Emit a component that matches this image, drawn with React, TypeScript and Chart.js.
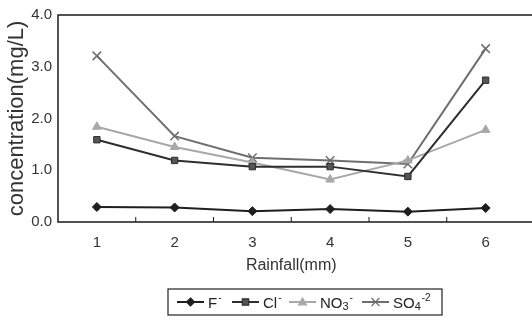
import React, { useEffect, useRef } from "react";
import { Chart, registerables } from "chart.js";

Chart.register(...registerables);

const categories = ["1", "2", "3", "4", "5", "6"];
const fValues = [0.29, 0.28, 0.21, 0.25, 0.2, 0.27];
const clValues = [1.59, 1.19, 1.07, 1.07, 0.88, 2.74];
const no3Values = [1.84, 1.45, 1.15, 0.82, 1.19, 1.78];
const so4Values = [3.21, 1.66, 1.24, 1.19, 1.12, 3.35];
const yTicks = [0, 1, 2, 3, 4];

const seriesLabels = ["F⁻", "Cl⁻", "NO₃⁻", "SO₄⁻²"];
// legend text segments: [text, kind] kind: n normal, sup, sub
const legendParts: [string, string][][] = [
  [["F", "n"], ["-", "sup"]],
  [["Cl", "n"], ["-", "sup"]],
  [["NO", "n"], ["3", "sub"], ["-", "sup"]],
  [["SO", "n"], ["4", "sub"], ["-2", "sup"]],
];

const FONT = "'Liberation Sans', Arial, sans-serif";

function marker(ctx: CanvasRenderingContext2D, style: string, x: number, y: number, r: number, stroke: string, fill: string) {
  ctx.save();
  ctx.strokeStyle = stroke;
  ctx.fillStyle = fill;
  ctx.lineWidth = 1.2;
  ctx.beginPath();
  if (style === "rectRot") {
    ctx.moveTo(x, y - r);
    ctx.lineTo(x + r, y);
    ctx.lineTo(x, y + r);
    ctx.lineTo(x - r, y);
    ctx.closePath();
    ctx.fill();
    ctx.stroke();
  } else if (style === "rect") {
    ctx.rect(x - r * 0.8, y - r * 0.8, r * 1.6, r * 1.6);
    ctx.fill();
    ctx.stroke();
  } else if (style === "triangle") {
    ctx.moveTo(x, y - r);
    ctx.lineTo(x + r, y + r * 0.7);
    ctx.lineTo(x - r, y + r * 0.7);
    ctx.closePath();
    ctx.fill();
    ctx.stroke();
  } else {
    ctx.moveTo(x - r, y - r);
    ctx.lineTo(x + r, y + r);
    ctx.moveTo(x + r, y - r);
    ctx.lineTo(x - r, y + r);
    ctx.stroke();
  }
  ctx.restore();
}

export default function App() {
  const ref = useRef<HTMLCanvasElement | null>(null);

  useEffect(() => {
    document.body.style.margin = "0";
    const canvas = ref.current;
    if (!canvas) return;

    const frame = {
      id: "frame",
      afterDraw(chart: any) {
        const { ctx, chartArea } = chart;
        const { left, right, top, bottom } = chartArea;
        ctx.save();
        ctx.strokeStyle = "#1a1a1a";
        ctx.lineWidth = 1.5;
        ctx.beginPath();
        ctx.moveTo(right + 10, top);
        ctx.lineTo(left, top);
        ctx.lineTo(left, bottom);
        ctx.lineTo(right + 10, bottom);
        ctx.stroke();
        const xs = chart.scales.x;
        ctx.lineWidth = 1;
        for (let i = 0; i < categories.length - 1; i++) {
          const x = (xs.getPixelForValue(i) + xs.getPixelForValue(i + 1)) / 2;
          ctx.beginPath();
          ctx.moveTo(x, bottom);
          ctx.lineTo(x, bottom - 5);
          ctx.stroke();
        }
        ctx.restore();
      },
    };

    const legend = {
      id: "customLegend",
      afterDraw(chart: any) {
        const { ctx } = chart;
        ctx.save();
        const bx = 168, by = 289, bw = 274, bh = 26;
        ctx.strokeStyle = "#222";
        ctx.lineWidth = 1.2;
        ctx.strokeRect(bx, by, bw, bh);
        const cy = by + bh / 2;
        const starts = [177, 232, 289, 362];
        chart.data.datasets.forEach((ds: any, i: number) => {
          const x0 = starts[i];
          const lw = 27;
          ctx.strokeStyle = ds.borderColor;
          ctx.lineWidth = 2;
          ctx.beginPath();
          ctx.moveTo(x0, cy);
          ctx.lineTo(x0 + lw, cy);
          ctx.stroke();
          marker(ctx, ds.pointStyle, x0 + lw / 2, cy, 4, ds.pointBorderColor, ds.pointBackgroundColor);
          let tx = x0 + lw + 4;
          ctx.fillStyle = "#222";
          ctx.textBaseline = "alphabetic";
          ctx.textAlign = "left";
          for (const [t, kind] of legendParts[i]) {
            if (kind === "n") {
              ctx.font = `15px ${FONT}`;
              ctx.fillText(t, tx, cy + 6);
            } else if (kind === "sub") {
              ctx.font = `11px ${FONT}`;
              ctx.fillText(t, tx, cy + 8);
            } else {
              ctx.font = `10px ${FONT}`;
              ctx.fillText(t, tx + 1, cy - 1);
            }
            tx += ctx.measureText(t).width + (kind === "sup" ? 1 : 0);
          }
        });
        ctx.restore();
      },
    };

    const mk = (label: string, data: number[], color: string, fill: string, style: string, r: number) => ({
      label,
      data,
      borderColor: color,
      backgroundColor: fill,
      pointBorderColor: color,
      pointBackgroundColor: fill,
      pointStyle: style,
      pointRadius: r,
      borderWidth: 2,
      pointBorderWidth: style === "crossRot" ? 1.5 : 1,
      tension: 0,
      fill: false,
    });

    const chart = new Chart(canvas, {
      type: "line",
      data: {
        labels: categories,
        datasets: [
          mk(seriesLabels[0], fValues, "#1f1f1f", "#1f1f1f", "rectRot", 4.5),
          mk(seriesLabels[1], clValues, "#2e2e2e", "#555", "rect", 4.5),
          mk(seriesLabels[2], no3Values, "#a8a8a8", "#a8a8a8", "triangle", 5),
          mk(seriesLabels[3], so4Values, "#6e6e6e", "#6e6e6e", "crossRot", 6),
        ] as any,
      },
      options: {
        animation: false,
        responsive: false,
        maintainAspectRatio: false,
        layout: { padding: { top: 13, right: 6, bottom: 46, left: 0 } },
        plugins: { legend: { display: false }, tooltip: { enabled: false } },
        scales: {
          x: {
            type: "category",
            offset: true,
            grid: { display: false, drawTicks: false },
            border: { display: false },
            ticks: { color: "#333", font: { size: 15, family: FONT }, padding: 12 },
            title: {
              display: true,
              text: "Rainfall(mm)",
              color: "#333",
              font: { size: 16, family: FONT },
              padding: { top: 2, bottom: 0 },
            },
            afterFit: (s: any) => {
              s.height = 53;
            },
          },
          y: {
            min: 0,
            max: 4,
            afterBuildTicks: (s: any) => {
              s.ticks = yTicks.map((v) => ({ value: v }));
            },
            grid: { display: false, drawTicks: false },
            border: { display: false },
            ticks: {
              color: "#333",
              font: { size: 15, family: FONT },
              padding: 6,
              callback: (v: any) => Number(v).toFixed(1),
            },
            title: {
              display: true,
              text: "concentration(mg/L)",
              color: "#333",
              font: { size: 22, family: FONT },
              padding: { top: 4, bottom: 0 },
            },
            afterFit: (s: any) => {
              s.width = 58;
            },
          },
        },
      },
      plugins: [frame, legend],
    });
    return () => chart.destroy();
  }, []);

  return (
    <div style={{ position: "fixed", left: 0, top: 0, width: 532, height: 321, background: "#fff" }}>
      <canvas ref={ref} width={532} height={321} style={{ width: 532, height: 321, display: "block" }} />
    </div>
  );
}
